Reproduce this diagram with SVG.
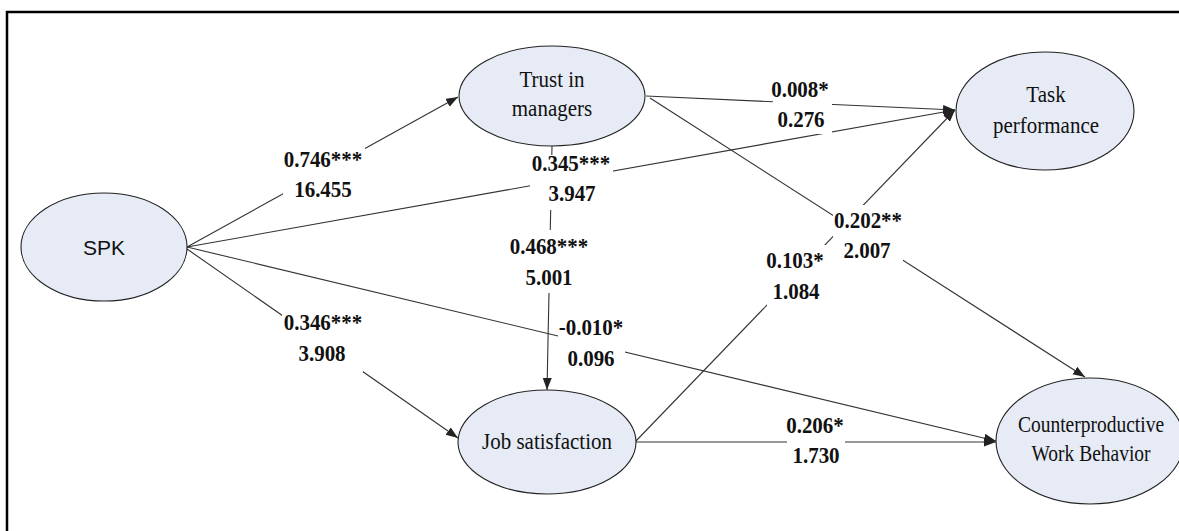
<svg xmlns="http://www.w3.org/2000/svg" width="1179" height="531" viewBox="0 0 1179 531">
<style>
.node{fill:#E6EBF6;stroke:#222;stroke-width:1.1}
.conn{stroke:#333;stroke-width:1.1;fill:none}
.nt{font-family:"Liberation Serif","Times New Roman",serif;font-size:21px;fill:#111;text-anchor:middle}
.ns{font-family:"Liberation Sans",Arial,sans-serif;font-size:21px;fill:#111;text-anchor:middle}
.lb{font-family:"Liberation Serif","Times New Roman",serif;font-size:21px;font-weight:bold;fill:#111;text-anchor:middle}
.bg{fill:#fff;stroke:none}
</style>
<defs>
<marker id="arr" markerWidth="12" markerHeight="10" refX="12" refY="4.5" orient="auto" markerUnits="userSpaceOnUse">
<path d="M0,0 L12,4.5 L0,9 z" fill="#222"/>
</marker>
</defs>
<rect x="0" y="0" width="1179" height="531" fill="#fff"/>
<path d="M7,531 L7,12 L1179,12" fill="none" stroke="#000" stroke-width="2.5"/>
<g id="connectors">
<line class="conn" x1="187" y1="247" x2="458" y2="97" marker-end="url(#arr)"/>
<line class="conn" x1="187" y1="247" x2="955" y2="110" marker-end="url(#arr)"/>
<line class="conn" x1="646" y1="96" x2="955" y2="110" marker-end="url(#arr)"/>
<line class="conn" x1="650" y1="98" x2="1085" y2="377" marker-end="url(#arr)"/>
<line class="conn" x1="635" y1="442" x2="955" y2="110" marker-end="url(#arr)"/>
<line class="conn" x1="636" y1="442" x2="996" y2="442" marker-end="url(#arr)"/>
<line class="conn" x1="187" y1="247" x2="996" y2="441" marker-end="url(#arr)"/>
<line class="conn" x1="187" y1="249" x2="458" y2="438" marker-end="url(#arr)"/>
<line class="conn" x1="552" y1="146" x2="547" y2="390" marker-end="url(#arr)"/>
</g>
<g id="labels">
<g id="l-spk-trust"><rect class="bg" x="283" y="142" width="82" height="62"/>
<text class="lb" transform="translate(323 167) scale(1 1.12)">0.746***</text>
<text class="lb" transform="translate(323 197) scale(1 1.12)">16.455</text></g>
<g id="l-trust-job-a"><rect class="bg" x="530" y="155" width="83" height="55"/>
<text class="lb" transform="translate(571 171) scale(1 1.12)">0.345***</text>
<text class="lb" transform="translate(572 201) scale(1 1.12)">3.947</text></g>
<g id="l-trust-job-b"><rect class="bg" x="508" y="230" width="82" height="63"/>
<text class="lb" transform="translate(549 254) scale(1 1.12)">0.468***</text>
<text class="lb" transform="translate(549 285) scale(1 1.12)">5.001</text></g>
<g id="l-spk-cwb"><rect class="bg" x="558" y="318" width="67" height="54"/>
<text class="lb" transform="translate(591 335) scale(1 1.12)">-0.010*</text>
<text class="lb" transform="translate(591 366) scale(1 1.12)">0.096</text></g>
<g id="l-spk-job"><rect class="bg" x="282" y="306" width="81" height="66"/>
<text class="lb" transform="translate(323 330) scale(1 1.12)">0.346***</text>
<text class="lb" transform="translate(322 361) scale(1 1.12)">3.908</text></g>
<g id="l-trust-task"><rect class="bg" x="773" y="78" width="59" height="56"/>
<text class="lb" transform="translate(800 97) scale(1 1.12)">0.008*</text>
<text class="lb" transform="translate(801 127) scale(1 1.12)">0.276</text></g>
<g id="l-trust-cwb"><rect class="bg" x="833" y="205" width="70" height="57"/>
<text class="lb" transform="translate(868 228) scale(1 1.12)">0.202**</text>
<text class="lb" transform="translate(867 258) scale(1 1.12)">2.007</text></g>
<g id="l-job-task"><rect class="bg" x="767" y="245" width="60" height="61"/>
<text class="lb" transform="translate(795 268) scale(1 1.12)">0.103*</text>
<text class="lb" transform="translate(796 299) scale(1 1.12)">1.084</text></g>
<g id="l-job-cwb"><rect class="bg" x="787" y="412" width="58" height="56"/>
<text class="lb" transform="translate(815 433) scale(1 1.12)">0.206*</text>
<text class="lb" transform="translate(816 463) scale(1 1.12)">1.730</text></g>
</g>
<g id="spk"><ellipse class="node" cx="104" cy="247" rx="83" ry="54"/>
<text class="ns" x="104" y="255">SPK</text></g>
<g id="trust"><ellipse class="node" cx="552" cy="96" rx="93" ry="50"/>
<text class="nt" transform="translate(552 87) scale(1 1.12)">Trust in</text>
<text class="nt" transform="translate(552 116) scale(1 1.12)">managers</text></g>
<g id="task"><ellipse class="node" cx="1045" cy="111" rx="89" ry="59"/>
<text class="nt" transform="translate(1046 102) scale(1 1.12)">Task</text>
<text class="nt" transform="translate(1046 133) scale(1 1.12)">performance</text></g>
<g id="job"><ellipse class="node" cx="547" cy="442" rx="89" ry="52"/>
<text class="nt" transform="translate(547 449) scale(1 1.12)">Job satisfaction</text></g>
<g id="cwb"><ellipse class="node" cx="1090" cy="441" rx="94" ry="63"/>
<text class="nt" style="font-size:19.5px" transform="translate(1091 432) scale(1 1.2)">Counterproductive</text>
<text class="nt" style="font-size:19.5px" transform="translate(1091 461) scale(1 1.2)">Work Behavior</text></g>
</svg>
